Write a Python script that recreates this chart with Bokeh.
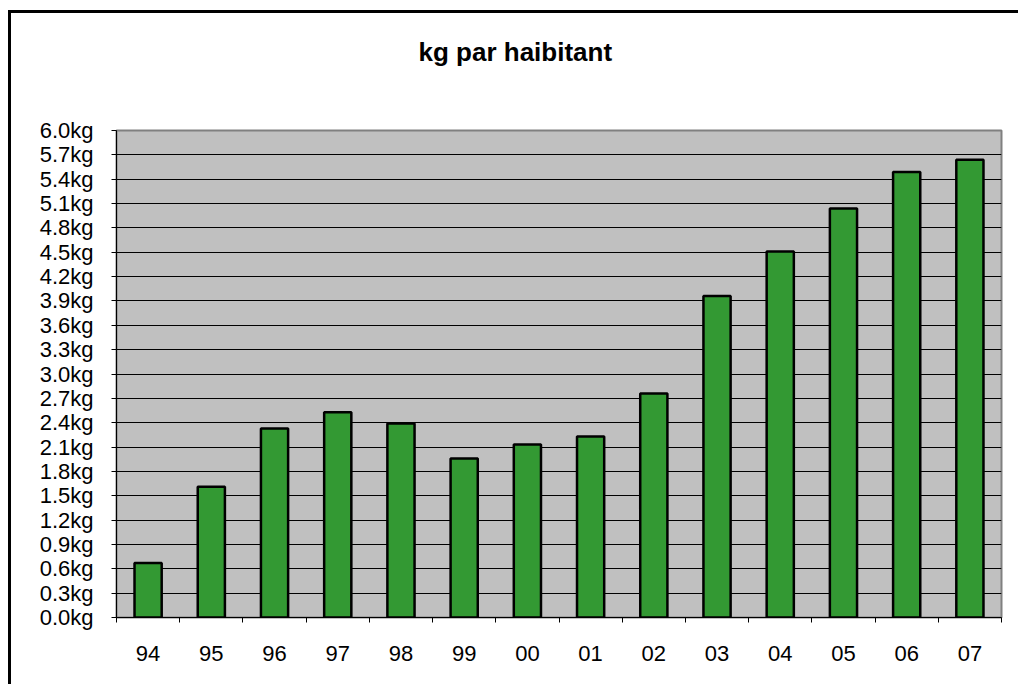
from bokeh.plotting import figure
from bokeh.models import FixedTicker, PrintfTickFormatter, Range1d, Title
from bokeh.embed import file_html
from bokeh.resources import INLINE

years = ["94", "95", "96", "97", "98", "99", "00", "01", "02", "03", "04", "05", "06", "07"]
kg_per_inhabitant = [0.67, 1.61, 2.33, 2.53, 2.39, 1.96, 2.13, 2.23, 2.76, 3.96, 4.51, 5.04, 5.49, 5.64]
y_ticks = [round(0.3 * i, 1) for i in range(21)]
title_text = "kg par haibitant"

FONT = "Liberation Sans"

p = figure(width=1010, height=674, output_backend="svg", toolbar_location=None,
           x_range=Range1d(0, len(years)), y_range=Range1d(0, 6.0),
           min_border_left=105, min_border_right=20, min_border_top=117, min_border_bottom=70)

# spacer panel between frame and title (pushes the title upwards)
spacer = Title(text=" ", text_font=FONT, text_font_size="1px", standoff=56)
p.add_layout(spacer, "above")
t = Title(text=title_text, align="left", text_font=FONT, text_font_size="26px",
          text_font_style="bold", text_color="black", standoff=10, offset=302)
p.add_layout(t, "above")

p.background_fill_color = "#C0C0C0"
p.border_fill_color = "white"
p.outline_line_color = "#808080"
p.outline_line_width = 2

centers = [i + 0.5 for i in range(len(years))]
p.vbar(x=centers, top=kg_per_inhabitant, bottom=0, width=0.43,
       fill_color="#339933", line_color="black", line_width=2.5)

# y axis
p.yaxis.ticker = FixedTicker(ticks=y_ticks, minor_ticks=[])
p.yaxis.formatter = PrintfTickFormatter(format="%.1fkg")
p.yaxis.major_label_text_font = FONT
p.yaxis.major_label_text_font_size = "22px"
p.yaxis.major_label_text_color = "black"
p.yaxis.major_tick_in = 0
p.yaxis.major_tick_out = 5
p.yaxis.minor_tick_line_color = None
p.yaxis.axis_line_color = "black"
p.yaxis.major_label_standoff = 18

# x axis: labels at category centres, ticks at boundaries
p.xaxis.ticker = FixedTicker(ticks=centers, minor_ticks=list(range(len(years) + 1)))
p.xaxis.major_label_overrides = {c: y for c, y in zip(centers, years)}
p.xaxis.major_label_text_font = FONT
p.xaxis.major_label_text_font_size = "22px"
p.xaxis.major_label_text_color = "black"
p.xaxis.major_tick_in = 0
p.xaxis.major_tick_out = 0
p.xaxis.minor_tick_in = 0
p.xaxis.minor_tick_out = 5
p.xaxis.minor_tick_line_color = "black"
p.xaxis.axis_line_color = "black"
p.xaxis.major_label_standoff = 23

p.xgrid.grid_line_color = None
p.ygrid.grid_line_color = "black"
p.ygrid.grid_line_width = 1

p.styles = {"border-left": "3px solid black", "border-top": "3px solid black",
            "margin-top": "10px", "margin-left": "8px"}

open("out.html", "w").write(file_html(p, INLINE))
